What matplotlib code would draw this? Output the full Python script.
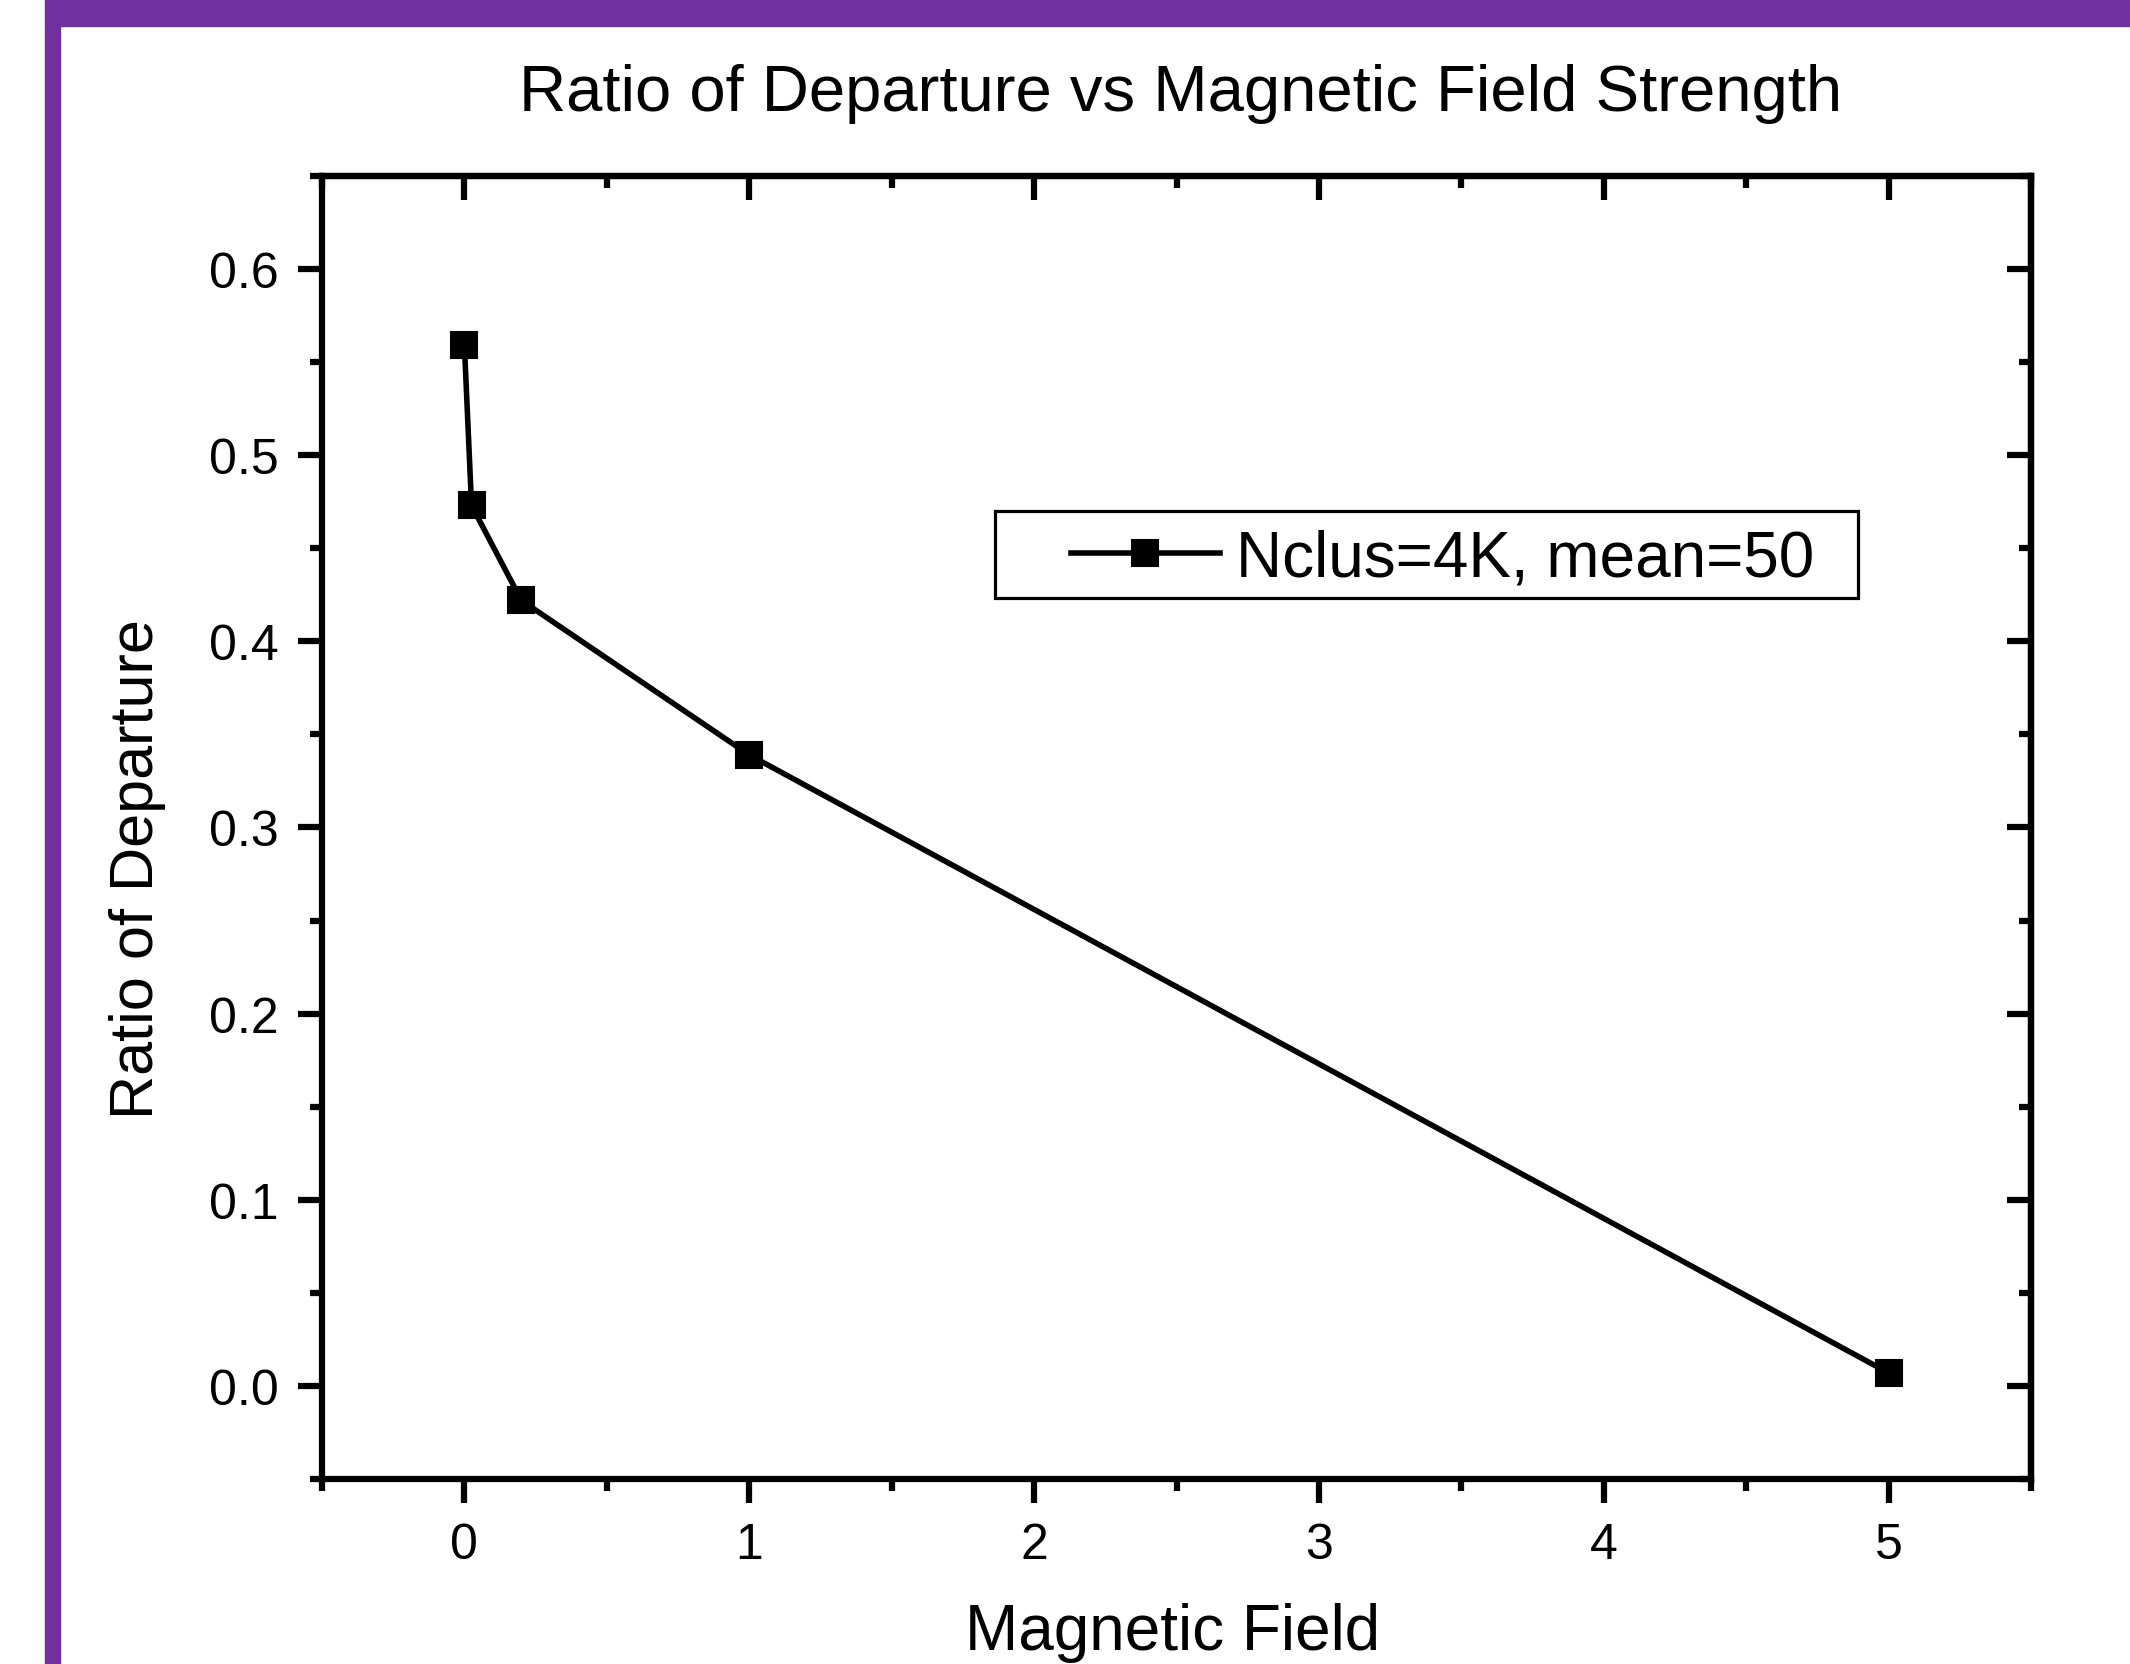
import matplotlib.pyplot as plt
from matplotlib.patches import Rectangle
from matplotlib.ticker import MultipleLocator
import numpy as np

plt.rcParams['font.family'] = ['Liberation Sans', 'DejaVu Sans']

# data
field = [0.0, 0.025, 0.2, 1.0, 5.0]
ratio = [0.559, 0.473, 0.422, 0.339, 0.007]
series_label = 'Nclus=4K, mean=50'
title = 'Ratio of Departure vs Magnetic Field Strength'
xlabel = 'Magnetic Field'
ylabel = 'Ratio of Departure'

W, H = 2130, 1665
fig = plt.figure(figsize=(W / 100, H / 100), dpi=100)
purple = '#7030A0'

# purple frame pieces (top bar and left bar)
fig.patches.append(Rectangle((45 / W, 1 - 27 / H), 1 - 45 / W, 27 / H,
                             transform=fig.transFigure, color=purple, zorder=0))
fig.patches.append(Rectangle((45 / W, 0), 15 / W, 1 - 27 / H,
                             transform=fig.transFigure, color=purple, zorder=0))

ax = fig.add_axes([322 / W, 1 - 1480 / H, (2031 - 322) / W, (1480 - 177) / H])
ax.plot(field, ratio, color='black', lw=4, marker='s', ms=19, mew=1.5,
        mfc='black', mec='black', label=series_label)

ax.set_xlim(-0.5, 5.5)
ax.set_ylim(-0.05, 0.65)
ax.xaxis.set_major_locator(MultipleLocator(1))
ax.xaxis.set_minor_locator(MultipleLocator(0.5))
ax.yaxis.set_major_locator(MultipleLocator(0.1))
ax.yaxis.set_minor_locator(MultipleLocator(0.05))
ax.xaxis.set_major_formatter(lambda v, p: f'{v:.0f}')
ax.yaxis.set_major_formatter(lambda v, p: f'{v:.1f}')

for s in ax.spines.values():
    s.set_linewidth(4.5)
ax.tick_params(which='major', direction='out', length=17, width=4.5,
               labelsize=36, pad=14)
ax.tick_params(which='minor', direction='out', length=8.5, width=4.5)

# inward ticks on top and right
top = ax.secondary_xaxis('top')
top.xaxis.set_major_locator(MultipleLocator(1))
top.xaxis.set_minor_locator(MultipleLocator(0.5))
right = ax.secondary_yaxis('right')
right.yaxis.set_major_locator(MultipleLocator(0.1))
right.yaxis.set_minor_locator(MultipleLocator(0.05))
for sec in (top, right):
    for s in sec.spines.values():
        s.set_linewidth(4.5)
    sec.tick_params(which='major', direction='in', length=17, width=4.5,
                    labeltop=False, labelright=False)
    sec.tick_params(which='minor', direction='in', length=8.5, width=4.5)

# legend box
ax.add_patch(Rectangle((0.394, 0.676), 0.505, 0.0668, transform=ax.transAxes,
                       fill=False, ec='black', lw=2.3, zorder=4))
ax.legend(loc='center left', bbox_to_anchor=(0.438, 0.7066), frameon=False,
          fontsize=46, handlelength=2.34, handletextpad=0.25, borderpad=0,
          borderaxespad=0, markerscale=1.0)

fig.text(1181 / W, 1 - 111 / H, title, fontsize=47, ha='center', va='baseline')
fig.text(1173 / W, 1 - 1650 / H, xlabel, fontsize=46, ha='center', va='baseline')
fig.text(137 / W, 1 - 869 / H, ylabel, fontsize=44, rotation=90,
         ha='center', va='center')

fig.savefig('out.png', dpi=100)
